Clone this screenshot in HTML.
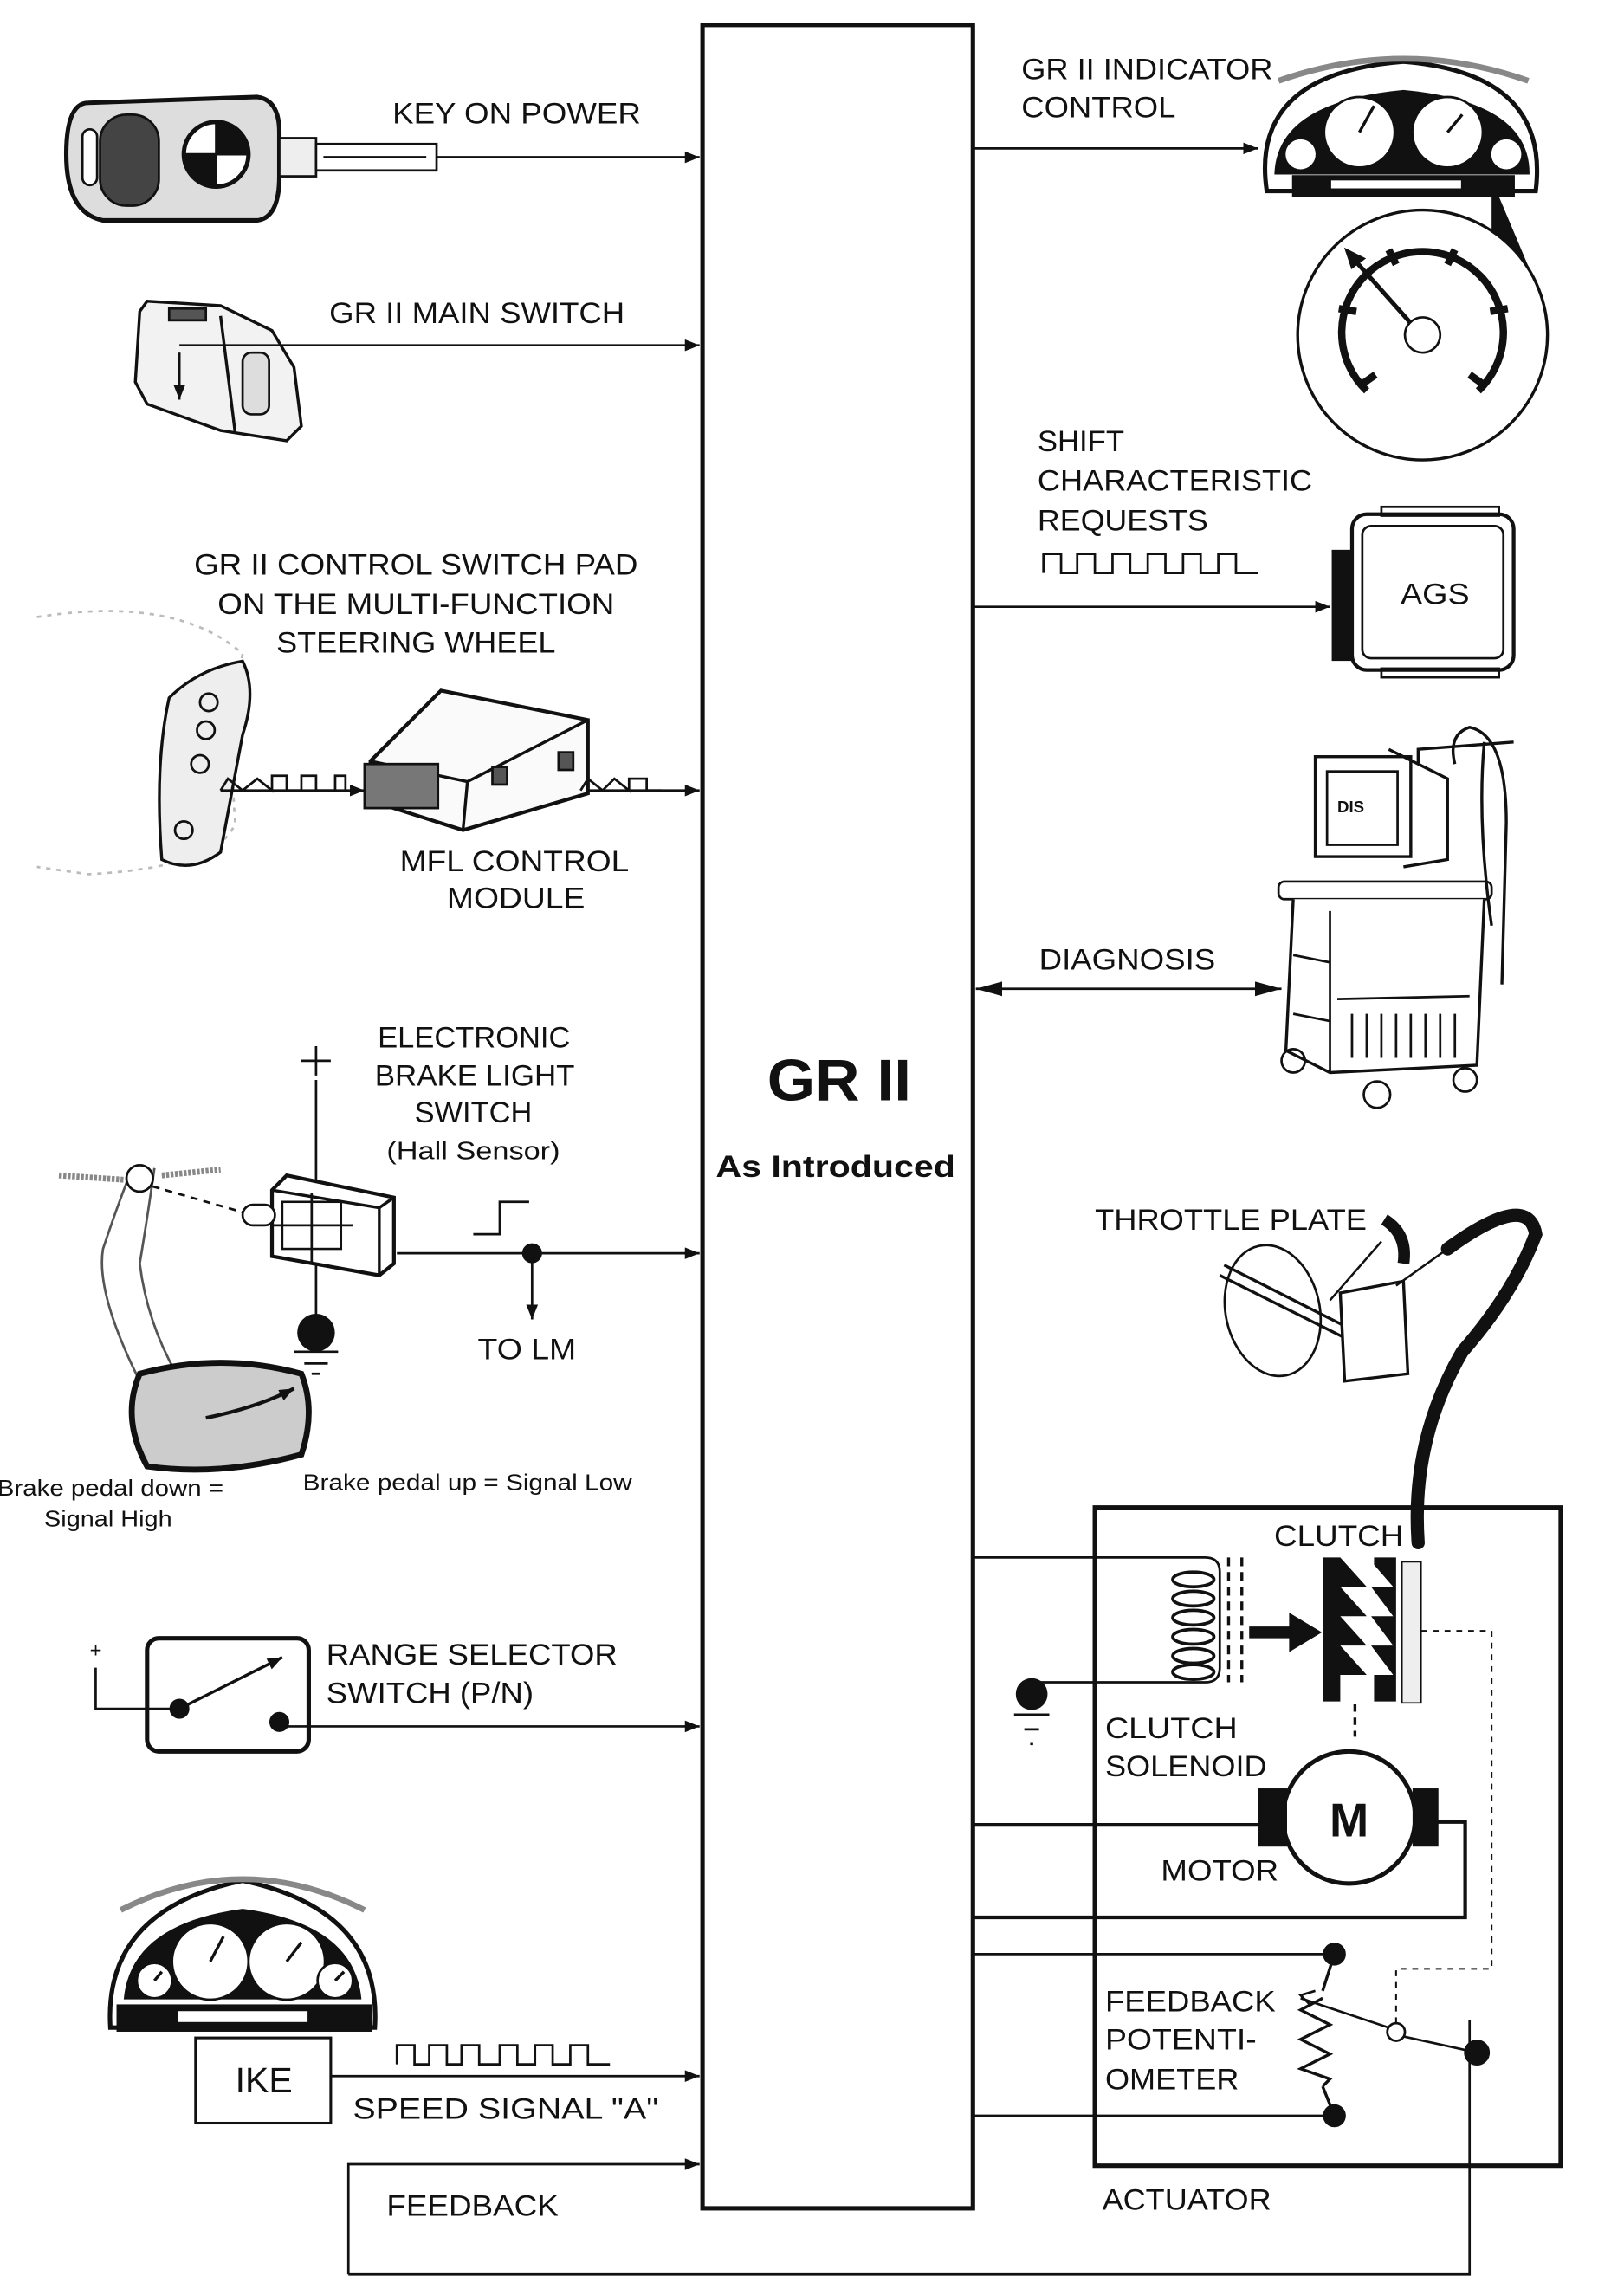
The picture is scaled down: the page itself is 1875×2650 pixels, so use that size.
<!DOCTYPE html>
<html><head><meta charset="utf-8"><style>
html,body{margin:0;padding:0;background:#fff;}
svg{display:block;}
text{font-family:"Liberation Sans",sans-serif;fill:#111;}
</style></head><body>
<svg width="1875" height="2650" viewBox="0 0 1105 1562" xmlns="http://www.w3.org/2000/svg">
<defs>
<marker id="ar" markerWidth="10" markerHeight="8" refX="10" refY="4" orient="auto" markerUnits="userSpaceOnUse" viewBox="0 0 10 8"><path d="M0,0 L10,4 L0,8 Z" fill="#111"/></marker>
<marker id="ar2" markerWidth="18" markerHeight="10" refX="18" refY="5" orient="auto-start-reverse" markerUnits="userSpaceOnUse" viewBox="0 0 18 10"><path d="M0,0 L18,5 L0,10 Z" fill="#111"/></marker>
</defs>
<g stroke="#111" fill="none" stroke-width="1.6">
<rect x="478" y="17" width="184" height="1486" stroke-width="3"/>

<path d="M60,70 Q45,70 45,105 Q45,145 70,150 L175,150 Q190,148 190,120 L190,90 Q190,68 175,66 Z" stroke-width="3" fill="#ddd"/>
<rect x="68" y="78" width="40" height="62" rx="18" fill="#444"/>
<rect x="56" y="88" width="10" height="38" rx="5" fill="#fff"/>
<circle cx="147" cy="105" r="22" fill="#fff" stroke-width="3"/>
<path d="M147,83 A22,22 0 0 1 169,105 L147,105 Z M147,127 A22,22 0 0 1 125,105 L147,105 Z" fill="#111"/>
<rect x="190" y="94" width="25" height="26" fill="#eee"/>
<rect x="215" y="98" width="82" height="18" fill="#fff"/>
<path d="M220,107 L290,107"/>
<path d="M297,107 L476,107" marker-end="url(#ar)"/>

<path d="M95,212 L100,205 L150,208 L185,225 L200,250 L205,290 L195,300 L150,293 L100,275 L92,260 Z" fill="#f2f2f2" stroke-width="2"/>
<path d="M150,215 L160,295" stroke-width="2"/>
<rect x="165" y="240" width="18" height="42" rx="6" fill="#ddd"/>
<rect x="115" y="210" width="25" height="8" fill="#555"/>
<path d="M122,240 L122,272" marker-end="url(#ar)"/>
<path d="M122,235 L476,235" marker-end="url(#ar)"/>

<path d="M25,420 Q120,405 165,445 Q155,500 160,560 Q150,590 60,595 L25,590" stroke="#bbb" stroke-dasharray="3,4"/>
<path d="M115,475 Q135,455 165,450 Q175,470 165,500 L150,580 Q130,595 110,585 Q105,520 115,475 Z" fill="#eee" stroke-width="2"/>
<circle cx="142" cy="478" r="6"/><circle cx="140" cy="497" r="6"/><circle cx="136" cy="520" r="6"/><circle cx="125" cy="565" r="6"/>
<path d="M150,538 L155,530 L165,538 L175,530 L185,538 L185,528 L195,528 L195,538 L205,538 L205,528 L215,528 L215,538 L228,538 L228,528 L235,528 L235,538"/>
<path d="M150,538 L248,538" marker-end="url(#ar)"/>
<path d="M252,518 L300,470 L400,490 L400,540 L315,565 L252,545 Z" fill="#fafafa" stroke-width="2.5"/>
<path d="M252,518 L318,532 L400,490 M318,532 L315,565" stroke-width="2"/>
<rect x="248" y="520" width="50" height="30" fill="#777"/>
<rect x="335" y="522" width="10" height="12" fill="#555"/><rect x="380" y="512" width="10" height="12" fill="#555"/>
<path d="M395,538 L400,530 L410,538 L418,530 L428,538 L428,530 L440,530 L440,538 L450,538"/>
<path d="M400,538 L476,538" marker-end="url(#ar)"/>

<path d="M215,712 L215,732 M205,722 L225,722"/>
<path d="M215,735 L215,812"/>
<path d="M185,810 L195,800 L268,815 L268,860 L258,868 L185,855 Z" fill="#fff" stroke-width="2.5"/>
<path d="M185,810 L258,822 L268,815 M258,822 L258,868" stroke-width="2"/>
<rect x="192" y="818" width="40" height="32" stroke-width="1.5"/>
<path d="M212,812 L212,860 M185,834 L240,834"/>
<rect x="165" y="820" width="22" height="14" rx="7" fill="#fff"/>
<path d="M95,805 L165,825" stroke-dasharray="5,4"/>
<path d="M215,860 L215,897"/>
<circle cx="215" cy="907" r="12" fill="#111"/>
<path d="M200,920 L230,920 M207,928 L223,928 M212,935 L218,935"/>
<path d="M88,800 Q80,820 70,850 Q65,880 95,940 M105,795 Q100,830 95,860 Q100,900 120,935" stroke="#555"/>
<circle cx="95" cy="802" r="9" fill="#fff"/>
<path d="M40,800 L85,803 M110,800 L150,796" stroke="#888" stroke-width="4" stroke-dasharray="2,1"/>
<path d="M95,935 Q150,920 205,935 Q215,960 205,990 Q150,1005 100,998 Q82,965 95,935 Z" fill="#ccc" stroke-width="4"/>
<path d="M140,965 Q175,958 200,945" marker-end="url(#ar)" stroke-width="2.5"/>
<path d="M322,840 L340,840 L340,818 L360,818"/>
<path d="M270,853 L476,853" marker-end="url(#ar)"/>
<circle cx="362" cy="853" r="6" fill="#111"/>
<path d="M362,853 L362,898" marker-end="url(#ar)"/>

<path d="M65,1135 L65,1163 L122,1163"/>
<rect x="100" y="1115" width="110" height="77" rx="8" stroke-width="3"/>
<circle cx="122" cy="1163" r="6" fill="#111"/><circle cx="190" cy="1172" r="6" fill="#111"/>
<path d="M122,1163 L192,1128" marker-end="url(#ar)" stroke-width="2"/>
<path d="M190,1175 L476,1175" marker-end="url(#ar)"/>

<path d="M75,1380 Q70,1300 165,1280 Q260,1300 255,1380 Z" fill="#fff" stroke-width="3"/>
<path d="M82,1300 Q165,1258 248,1300" stroke="#888" stroke-width="4"/>
<rect x="80" y="1365" width="172" height="17" fill="#111"/>
<rect x="120" y="1368" width="90" height="9" fill="#fff"/>
<path d="M85,1360 Q90,1310 165,1300 Q240,1310 245,1360 Z" fill="#111"/>
<circle cx="143" cy="1335" r="26" fill="#fff"/><circle cx="195" cy="1335" r="26" fill="#fff"/>
<circle cx="105" cy="1348" r="12" fill="#fff"/><circle cx="228" cy="1348" r="12" fill="#fff"/>
<path d="M143,1335 L152,1318 M195,1335 L205,1322 M105,1348 L110,1342 M228,1348 L234,1342" stroke-width="2"/>
<rect x="133" y="1387" width="92" height="58" fill="#fff" stroke-width="1.8"/>
<path d="M270,1405 L270,1392 L282,1392 L282,1405 L292,1405 L292,1392 L304,1392 L304,1405 L314,1405 L314,1392 L326,1392 L326,1405 L340,1405 L340,1392 L352,1392 L352,1405 L364,1405 L364,1392 L376,1392 L376,1405 L388,1405 L388,1392 L400,1392 L400,1405 L415,1405"/>
<path d="M225,1413 L476,1413" marker-end="url(#ar)"/>

<path d="M237,1548 L237,1473 L476,1473" marker-end="url(#ar)"/>
<path d="M237,1548 L1000,1548 L1000,1375"/>

<path d="M662,101 L856,101" marker-end="url(#ar)"/>
<path d="M862,130 Q850,50 955,42 Q1055,50 1045,130 Z" fill="#fff" stroke-width="3"/>
<path d="M870,55 Q955,25 1040,55" stroke="#888" stroke-width="4"/>
<path d="M868,118 Q870,70 955,62 Q1040,70 1040,118 Z" fill="#111"/>
<circle cx="925" cy="90" r="24" fill="#fff"/><circle cx="985" cy="90" r="24" fill="#fff"/>
<circle cx="885" cy="105" r="11" fill="#fff"/><circle cx="1025" cy="105" r="11" fill="#fff"/>
<path d="M925,90 L935,72 M985,90 L995,78" stroke-width="2"/>
<rect x="880" y="120" width="150" height="13" fill="#111"/>
<rect x="905" y="122" width="90" height="7" fill="#fff"/>
<path d="M1015,122 L1050,205 L1015,240 Z" fill="#111" stroke="none"/>
<circle cx="968" cy="228" r="85" fill="#fff" stroke-width="2"/>
<circle cx="968" cy="228" r="12" fill="#fff"/>
<g stroke-width="5">
<path d="M930,266 A55,55 0 1 1 1006,266"/>
<path d="M911,210 L923,212 M945,170 L950,180 M990,170 L985,180 M1026,210 L1014,212 M1010,262 L1000,255 M926,262 L936,255"/>
</g>
<path d="M960,220 L920,175" stroke-width="3"/>
<path d="M916,170 L928,176 L920,182 Z" fill="#111"/>

<path d="M710,390 L710,377 L722,377 L722,390 L733,390 L733,377 L745,377 L745,390 L757,390 L757,377 L769,377 L769,390 L781,390 L781,377 L793,377 L793,390 L805,390 L805,377 L817,377 L817,390 L829,390 L829,377 L841,377 L841,390 L856,390"/>
<path d="M662,413 L905,413" marker-end="url(#ar)"/>
<rect x="907" y="375" width="14" height="74" fill="#111"/>
<rect x="920" y="350" width="110" height="106" rx="10" fill="#fff" stroke-width="2.5"/>
<rect x="927" y="358" width="96" height="90" rx="6"/>
<rect x="940" y="345" width="80" height="6"/><rect x="940" y="455" width="80" height="6"/>

<path d="M664,673 L872,673" marker-start="url(#ar2)" marker-end="url(#ar2)"/>
<rect x="895" y="515" width="65" height="68" fill="#fff" stroke-width="2"/>
<rect x="903" y="525" width="48" height="50" fill="#fff"/>
<text x="910" y="553" font-size="11" font-weight="bold" stroke="none">DIS</text>
<path d="M945,510 L985,530 L985,585 L955,590" stroke-width="2"/>
<rect x="870" y="600" width="145" height="12" rx="4"/>
<path d="M880,612 L875,715 L905,730 L1005,725 L1010,612" stroke-width="2" fill="#fff"/>
<path d="M905,620 L905,730 M880,650 L905,655 M880,690 L905,695 M910,680 L1000,678" />
<path d="M920,690 L920,720 M930,690 L930,720 M940,690 L940,720 M950,690 L950,720 M960,690 L960,720 M970,690 L970,720 M980,690 L980,720 M990,690 L990,720"/>
<circle cx="880" cy="722" r="8"/><circle cx="937" cy="745" r="9"/><circle cx="997" cy="735" r="8"/>
<path d="M990,520 Q985,500 1000,495 Q1025,500 1025,560 L1022,670 M1010,505 Q1005,560 1015,630 M965,520 L965,510 L1030,505" stroke-width="2"/>

<ellipse cx="866" cy="892" rx="32" ry="45" transform="rotate(-12 866 892)" fill="#fff"/>
<path d="M830,868 L918,912 M833,861 L920,905" stroke-width="2"/>
<path d="M912,880 L955,872 L958,935 L915,940 Z" fill="#fff" stroke-width="2"/>
<path d="M905,885 L940,845 M950,875 L985,850" stroke-width="1.5"/>
<path d="M942,830 Q958,840 955,860" stroke-width="8"/>
<path d="M985,850 Q1040,810 1045,840 Q1030,880 995,920 Q960,980 965,1050" stroke-width="9" stroke-linecap="round"/>

<rect x="745" y="1026" width="317" height="448" stroke-width="3"/>
<path d="M662,1060 L820,1060 Q830,1060 830,1070 L830,1135 Q830,1145 820,1145 L702,1145"/>
<g stroke-width="2.2"><ellipse cx="812" cy="1075" rx="14" ry="5"/><ellipse cx="812" cy="1088" rx="14" ry="5"/><ellipse cx="812" cy="1101" rx="14" ry="5"/><ellipse cx="812" cy="1114" rx="14" ry="5"/><ellipse cx="812" cy="1127" rx="14" ry="5"/><ellipse cx="812" cy="1138" rx="14" ry="5"/></g>
<path d="M836,1060 L836,1145 M845,1060 L845,1145" stroke-dasharray="6,4" stroke-width="2"/>
<circle cx="702" cy="1153" r="10" fill="#111"/>
<path d="M690,1167 L714,1167 M697,1177 L707,1177 M701,1187 L703,1187"/>
<path d="M850,1111 L880,1111" stroke-width="8"/><path d="M878,1099 L898,1111 L878,1123 Z" fill="#111"/>
<path d="M900,1060 L912,1060 L930,1080 L912,1080 L930,1100 L912,1100 L930,1120 L912,1120 L930,1140 L912,1140 L912,1158 L900,1158 Z" fill="#111" stroke="none"/>
<path d="M950,1060 L935,1060 L935,1065 L948,1080 L933,1080 L948,1100 L933,1100 L948,1120 L933,1120 L948,1140 L935,1140 L935,1158 L950,1158 Z" fill="#111" stroke="none"/>
<rect x="954" y="1063" width="13" height="96" fill="#eee" stroke-width="1"/>
<path d="M967,1110 L1015,1110 L1015,1340 L950,1340 L950,1378" stroke-dasharray="4,4" stroke-width="1.2"/>
<path d="M922,1160 L922,1182" stroke-dasharray="5,4" stroke-width="2"/>
<circle cx="918" cy="1237" r="45" fill="#fff" stroke-width="3"/>
<rect x="857" y="1218" width="18" height="38" fill="#111"/><rect x="962" y="1218" width="16" height="38" fill="#111"/>
<text x="918" y="1250" font-size="32" font-weight="bold" text-anchor="middle" stroke="none">M</text>
<path d="M662,1242 L857,1242 M978,1240 L997,1240 L997,1305 L662,1305" stroke-width="2.5"/>
<path d="M662,1330 L908,1330 M662,1440 L908,1440"/>
<circle cx="908" cy="1330" r="7" fill="#111"/><circle cx="908" cy="1440" r="7" fill="#111"/>
<path d="M908,1330 L900,1355 M908,1440 L900,1420 M900,1360 L885,1368 L905,1378 L885,1388 L905,1398 L885,1408 L905,1415 L900,1420" stroke-width="2"/>
<path d="M885,1360 L945,1380" />
<path d="M895,1355 L885,1358 L892,1365"/>
<circle cx="950" cy="1383" r="6" fill="#fff"/>
<path d="M955,1386 L1005,1397"/>
<circle cx="1005" cy="1397" r="8" fill="#111"/>
</g>

<g font-size="20">
<text x="267" y="84" textLength="169" lengthAdjust="spacingAndGlyphs">KEY ON POWER</text>
<text x="224" y="220" textLength="201" lengthAdjust="spacingAndGlyphs">GR II MAIN SWITCH</text>
<text x="132" y="391" textLength="302" lengthAdjust="spacingAndGlyphs">GR II CONTROL SWITCH PAD</text>
<text x="148" y="418" textLength="270" lengthAdjust="spacingAndGlyphs">ON THE MULTI-FUNCTION</text>
<text x="188" y="444" textLength="190" lengthAdjust="spacingAndGlyphs">STEERING WHEEL</text>
<text x="272" y="593" textLength="156" lengthAdjust="spacingAndGlyphs">MFL CONTROL</text>
<text x="304" y="618" textLength="94" lengthAdjust="spacingAndGlyphs">MODULE</text>
<text x="257" y="713" textLength="131" lengthAdjust="spacingAndGlyphs">ELECTRONIC</text>
<text x="255" y="739" textLength="136" lengthAdjust="spacingAndGlyphs">BRAKE LIGHT</text>
<text x="282" y="764" textLength="80" lengthAdjust="spacingAndGlyphs">SWITCH</text>
<text x="263" y="789" font-size="17" textLength="118" lengthAdjust="spacingAndGlyphs">(Hall Sensor)</text>
<text x="325" y="925" textLength="67" lengthAdjust="spacingAndGlyphs">TO LM</text>
<text x="-2" y="1018" font-size="15" textLength="154" lengthAdjust="spacingAndGlyphs">Brake pedal down =</text>
<text x="30" y="1039" font-size="15" textLength="87" lengthAdjust="spacingAndGlyphs">Signal High</text>
<text x="206" y="1014" font-size="15" textLength="224" lengthAdjust="spacingAndGlyphs">Brake pedal up = Signal Low</text>
<text x="61" y="1128" font-size="14">+</text>
<text x="222" y="1133" textLength="198" lengthAdjust="spacingAndGlyphs">RANGE SELECTOR</text>
<text x="222" y="1159" textLength="141" lengthAdjust="spacingAndGlyphs">SWITCH (P/N)</text>
<text x="160" y="1424" font-size="24" textLength="39" lengthAdjust="spacingAndGlyphs">IKE</text>
<text x="240" y="1442" textLength="208" lengthAdjust="spacingAndGlyphs">SPEED SIGNAL "A"</text>
<text x="263" y="1508" textLength="117" lengthAdjust="spacingAndGlyphs">FEEDBACK</text>
<text x="522" y="749" font-size="40" font-weight="bold" textLength="98" lengthAdjust="spacingAndGlyphs">GR II</text>
<text x="487" y="801" font-size="21" font-weight="bold" textLength="163" lengthAdjust="spacingAndGlyphs">As Introduced</text>
<text x="695" y="54" textLength="171" lengthAdjust="spacingAndGlyphs">GR II INDICATOR</text>
<text x="695" y="80" textLength="105" lengthAdjust="spacingAndGlyphs">CONTROL</text>
<text x="706" y="307" textLength="59" lengthAdjust="spacingAndGlyphs">SHIFT</text>
<text x="706" y="334" textLength="187" lengthAdjust="spacingAndGlyphs">CHARACTERISTIC</text>
<text x="706" y="361" textLength="116" lengthAdjust="spacingAndGlyphs">REQUESTS</text>
<text x="953" y="411" textLength="47" lengthAdjust="spacingAndGlyphs">AGS</text>
<text x="707" y="660" textLength="120" lengthAdjust="spacingAndGlyphs">DIAGNOSIS</text>
<text x="745" y="837" textLength="185" lengthAdjust="spacingAndGlyphs">THROTTLE PLATE</text>
<text x="867" y="1052" textLength="88" lengthAdjust="spacingAndGlyphs">CLUTCH</text>
<text x="752" y="1183" textLength="90" lengthAdjust="spacingAndGlyphs">CLUTCH</text>
<text x="752" y="1209" textLength="110" lengthAdjust="spacingAndGlyphs">SOLENOID</text>
<text x="790" y="1280" textLength="80" lengthAdjust="spacingAndGlyphs">MOTOR</text>
<text x="752" y="1369" textLength="116" lengthAdjust="spacingAndGlyphs">FEEDBACK</text>
<text x="752" y="1395" textLength="103" lengthAdjust="spacingAndGlyphs">POTENTI-</text>
<text x="752" y="1422" textLength="91" lengthAdjust="spacingAndGlyphs">OMETER</text>
<text x="750" y="1504" textLength="115" lengthAdjust="spacingAndGlyphs">ACTUATOR</text>
</g>
</svg>
</body></html>
